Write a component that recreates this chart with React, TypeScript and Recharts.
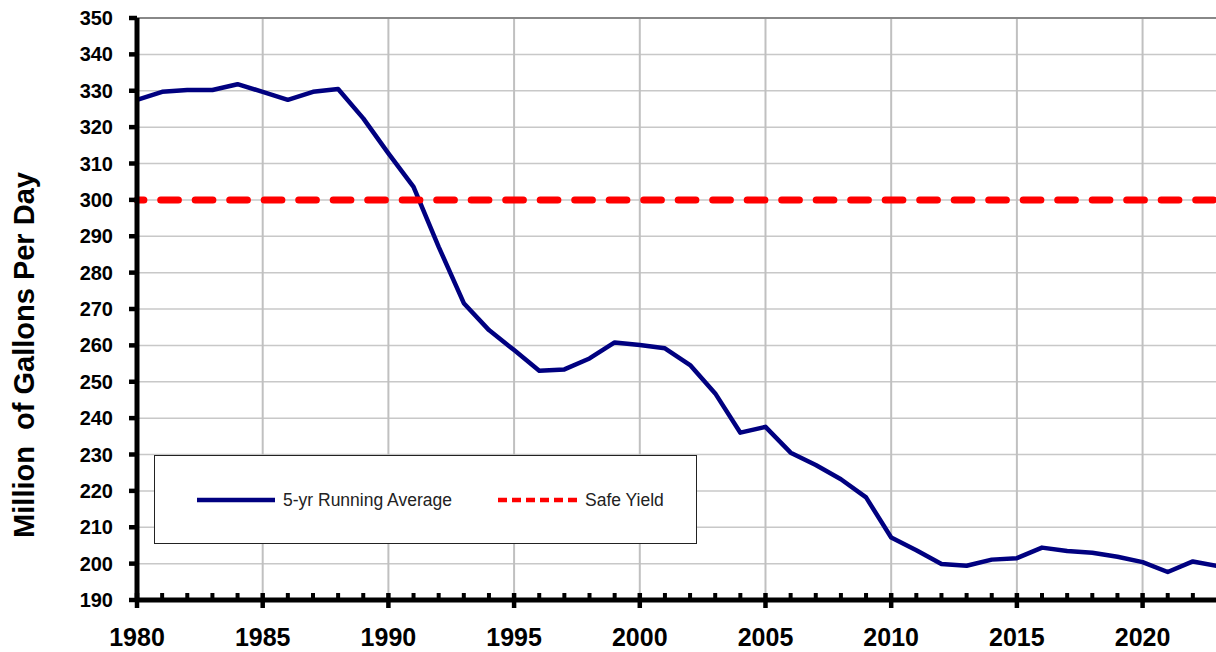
import React from 'react';
import { LineChart, Line, XAxis, YAxis, CartesianGrid, ReferenceLine } from 'recharts';

// years on the x axis (every year gets a minor tick)
const YEARS = [
  1980, 1981, 1982, 1983, 1984, 1985, 1986, 1987, 1988, 1989,
  1990, 1991, 1992, 1993, 1994, 1995, 1996, 1997, 1998, 1999,
  2000, 2001, 2002, 2003, 2004, 2005, 2006, 2007, 2008, 2009,
  2010, 2011, 2012, 2013, 2014, 2015, 2016, 2017, 2018, 2019,
  2020, 2021, 2022, 2023,
];

// 5-yr running average, million gallons per day
const RUNNING_AVG = [
  327.5, 329.7, 330.2, 330.2, 331.8, 329.7, 327.5, 329.7, 330.5, 322.4,
  312.8, 303.6, 287.1, 271.6, 264.2, 258.7, 253.0, 253.4, 256.4, 260.8,
  260.1, 259.2, 254.6, 246.8, 236.0, 237.6, 230.5, 227.1, 223.2, 218.2,
  207.2, 203.7, 199.9, 199.4, 201.1, 201.5, 204.4, 203.5, 203.0, 201.9,
  200.4, 197.7, 200.6, 199.3,
];

const SAFE_YIELD = 300;

const MAJOR_YEARS = [1980, 1985, 1990, 1995, 2000, 2005, 2010, 2015, 2020];
const Y_TICKS = [190, 200, 210, 220, 230, 240, 250, 260, 270, 280, 290, 300, 310, 320, 330, 340, 350];

const FONT = 'Arial, "Liberation Sans", sans-serif';

const data = YEARS.map((year, i) => ({ year, avg: RUNNING_AVG[i] }));

const YearTick = (props: any) => {
  const { x, y, payload } = props;
  const v = payload.value;
  if (MAJOR_YEARS.includes(v)) {
    return (
      <g>
        <line x1={x} x2={x} y1={y - 7} y2={y + 8} stroke="#000" strokeWidth={4.5} />
        <text x={x} y={y + 46} textAnchor="middle" fontFamily={FONT} fontWeight="bold" fontSize={25} fill="#000">
          {v}
        </text>
      </g>
    );
  }
  return <line x1={x} x2={x} y1={y - 7} y2={y} stroke="#000" strokeWidth={4} />;
};

const YTitle = () => (
  <text
    x={34}
    y={355}
    transform="rotate(-90, 34, 355)"
    textAnchor="middle"
    fontFamily={FONT}
    fontWeight="bold"
    fontSize={29}
    fill="#000"
    style={{ whiteSpace: 'pre' }}
  >
    {'Million  of Gallons Per Day'}
  </text>
);

const ChartLegend = () => (
  <div
    style={{
      position: 'absolute',
      left: 154,
      top: 455,
      width: 543,
      height: 89,
      boxSizing: 'border-box',
      border: '1px solid #222',
      background: '#fff',
    }}
  >
    <svg width={541} height={87}>
      <line x1={42} x2={120} y1={44} y2={44} stroke="#000080" strokeWidth={4.5} />
      <text x={128} y={44} dominantBaseline="central" fontFamily={FONT} fontSize={17.5} fill="#222">
        5-yr Running Average
      </text>
      <line x1={343} x2={422} y1={44} y2={44} stroke="#ff0000" strokeWidth={4.5} strokeDasharray="9 5" />
      <text x={430} y={44} dominantBaseline="central" fontFamily={FONT} fontSize={17.5} fill="#222">
        Safe Yield
      </text>
    </svg>
  </div>
);

export default function App() {
  return (
    <div style={{ position: 'absolute', left: 0, top: 0, width: 1216, height: 652, overflow: 'hidden', background: '#fff' }}>
      <LineChart width={1218} height={652} data={data} margin={{ top: 18, right: 0, left: 0, bottom: 0 }}>
        <CartesianGrid vertical={false} stroke="#c8c8c8" strokeWidth={1.5} />
        <CartesianGrid horizontal={false} verticalValues={MAJOR_YEARS} stroke="#c0c0c0" strokeWidth={2} />
        <XAxis
          dataKey="year"
          type="number"
          domain={[1980, 2023]}
          ticks={YEARS}
          interval={0}
          tickSize={0}
          tickMargin={0}
          tickLine={false}
          tick={<YearTick />}
          axisLine={{ stroke: '#000', strokeWidth: 5 }}
          height={52}
        />
        <YAxis
          type="number"
          domain={[190, 350]}
          ticks={Y_TICKS}
          interval={0}
          width={137}
          tickSize={8}
          tickMargin={16}
          tickLine={{ stroke: '#000', strokeWidth: 4.5 }}
          axisLine={{ stroke: '#000', strokeWidth: 5 }}
          tick={{ fontFamily: FONT, fontWeight: 'bold', fontSize: 20, fill: '#000' }}
          label={{ content: () => <YTitle /> }}
        />
        <ReferenceLine y={350} stroke="#888" strokeWidth={2} />
        <Line
          type="linear"
          dataKey="avg"
          stroke="#000080"
          strokeWidth={4.5}
          strokeLinejoin="round"
          dot={false}
          activeDot={false}
          isAnimationActive={false}
        />
        <ReferenceLine
          y={SAFE_YIELD}
          stroke="#ff0000"
          strokeWidth={7}
          strokeDasharray="17.7 16.8"
          strokeDashoffset={10.8}
          strokeLinecap="round"
        />
      </LineChart>
      <ChartLegend />
    </div>
  );
}
